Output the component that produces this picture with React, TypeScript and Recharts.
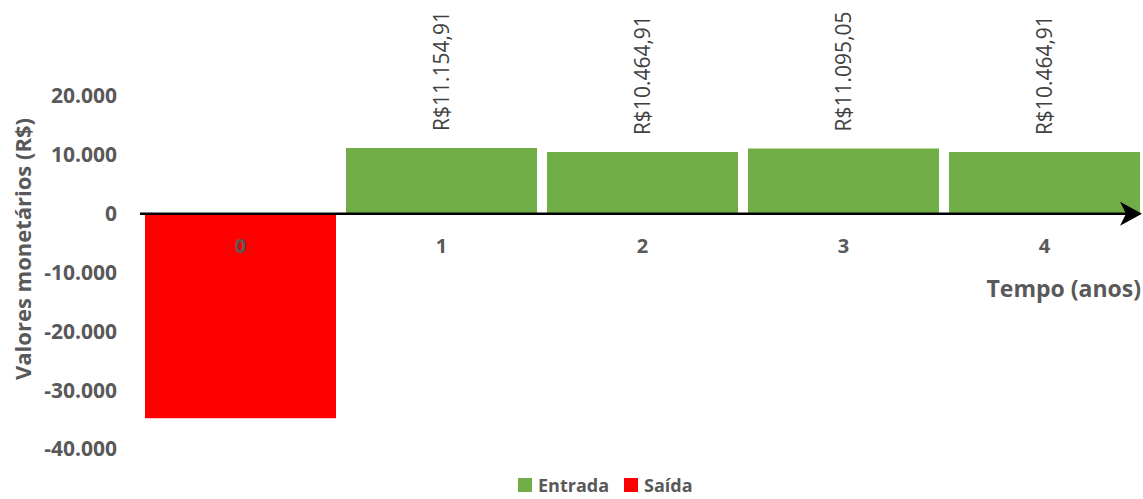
import { BarChart, Bar, XAxis, YAxis, ReferenceLine, LabelList, Legend } from 'recharts'

// Fluxo de caixa por ano (R$)
const anos = ['0', '1', '2', '3', '4']
const entradas = [null, 11154.91, 10464.91, 11095.05, 10464.91]
const saidas = [-34760, null, null, null, null]
const yTicks = [-40000, -30000, -20000, -10000, 0, 10000, 20000]

const data = anos.map((ano, i) => ({ ano, entrada: entradas[i], saida: saidas[i] }))

const FONT = '"Open Sans", "Noto Sans", sans-serif'
const GRIS = '#595959'
const VERDE = '#70AD47'
const VERMELHO = '#FF0000'

const W = 1150
const H = 499
const margin = { top: 96, right: 5, bottom: 20, left: 0 }
const X_AXIS_H = 30
const Y_MIN = -40000
const Y_MAX = 20000
const plotH = H - margin.top - margin.bottom - X_AXIS_H
// linha do zero, onde fica o eixo do tempo
const zeroY = margin.top + (plotH * Y_MAX) / (Y_MAX - Y_MIN)

const agrupa = (s: string) => s.replace(/\B(?=(\d{3})+(?!\d))/g, '.')

function milhar(n: number) {
  return (n < 0 ? '-' : '') + agrupa(Math.abs(n).toFixed(0))
}

function reais(n: number) {
  const [int, dec] = n.toFixed(2).split('.')
  return 'R$' + agrupa(int) + ',' + dec
}

const AnoTick = ({ x, payload }: any) => (
  <text
    x={x}
    y={zeroY + 32}
    textAnchor="middle"
    dominantBaseline="central"
    fill={GRIS}
    fontFamily={FONT}
    fontWeight={700}
    fontSize={20}
  >
    {payload.value}
  </text>
)

const ValorLabel = ({ x, y, width, value }: any) => {
  if (value == null) return null
  const cx = x + width / 2
  const by = y - 17
  return (
    <text
      x={cx}
      y={by}
      transform={`rotate(-90 ${cx} ${by})`}
      textAnchor="start"
      dominantBaseline="central"
      fill="#404040"
      fontFamily={FONT}
      fontWeight={500}
      fontSize={21}
    >
      {reais(value)}
    </text>
  )
}

const EixoSeta = ({ x1, y1, x2 }: any) => {
  const tip = x2 - 3
  return (
    <g>
      <line x1={x1} y1={y1} x2={tip - 10} y2={y1} stroke="#000" strokeWidth={2.5} />
      <path
        d={`M${tip},${y1} L${tip - 22},${y1 - 12} L${tip - 16},${y1} L${tip - 22},${y1 + 12} Z`}
        fill="#000"
      />
    </g>
  )
}

const Legenda = ({ payload }: any) => (
  <div
    style={{
      display: 'flex',
      alignItems: 'center',
      gap: 15,
      fontFamily: FONT,
      fontWeight: 700,
      fontSize: 18,
      lineHeight: '18px',
      color: GRIS,
      whiteSpace: 'nowrap',
    }}
  >
    {(payload || []).map((item: any) => (
      <div key={item.value} style={{ display: 'flex', alignItems: 'center', gap: 6 }}>
        <span style={{ width: 14, height: 14, background: item.color, display: 'inline-block' }} />
        <span>{item.value}</span>
      </div>
    ))}
  </div>
)

export default function App() {
  return (
    <div style={{ width: 1143, height: H, overflow: 'hidden', background: '#fff' }}>
      <style>{'body{margin:0}'}</style>
      <BarChart width={W} height={H} data={data} margin={margin} barCategoryGap={5}>
        <XAxis
          dataKey="ano"
          height={X_AXIS_H}
          axisLine={false}
          tickLine={false}
          tick={<AnoTick />}
          interval={0}
          label={{
            content: () => (
              <text
                x={W - margin.right - 4}
                y={zeroY + 74}
                textAnchor="end"
                dominantBaseline="central"
                fill={GRIS}
                fontFamily={FONT}
                fontWeight={700}
                fontSize={23}
              >
                Tempo (anos)
              </text>
            ),
          }}
        />
        <YAxis
          width={140}
          domain={[Y_MIN, Y_MAX]}
          ticks={yTicks}
          axisLine={false}
          tickLine={false}
          tickSize={0}
          tickMargin={23}
          tickFormatter={milhar}
          tick={{ fill: GRIS, fontFamily: FONT, fontWeight: 700, fontSize: 21 }}
          label={{
            content: () => (
              <text
                x={22}
                y={249}
                transform="rotate(-90 22 249)"
                textAnchor="middle"
                dominantBaseline="central"
                fill={GRIS}
                fontFamily={FONT}
                fontWeight={700}
                fontSize={22}
              >
                Valores monetários (R$)
              </text>
            ),
          }}
        />
        <Bar dataKey="entrada" name="Entrada" stackId="fluxo" fill={VERDE} isAnimationActive={false}>
          <LabelList dataKey="entrada" content={<ValorLabel />} />
        </Bar>
        <Bar dataKey="saida" name="Saída" stackId="fluxo" fill={VERMELHO} isAnimationActive={false} />
        <ReferenceLine y={0} shape={<EixoSeta />} />
        <Legend
          layout="horizontal"
          verticalAlign="middle"
          align="center"
          content={<Legenda />}
          wrapperStyle={{ top: 476, left: 518, width: 'auto' }}
        />
      </BarChart>
    </div>
  )
}
